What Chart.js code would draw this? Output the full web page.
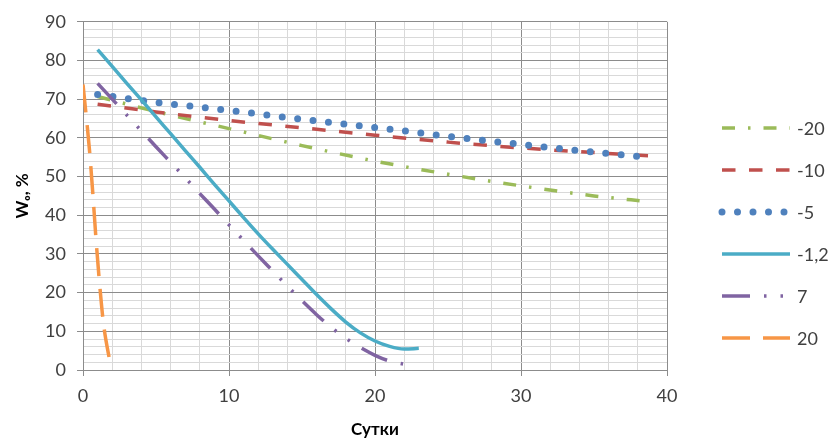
<!DOCTYPE html>
<html>
<head>
<meta charset="utf-8">
<script src="https://cdn.jsdelivr.net/npm/chart.js@4.4.1/dist/chart.umd.min.js"></script>
<style>
  html, body { margin: 0; padding: 0; background: #fff; }
</style>
</head>
<body>
<canvas id="chart" width="833" height="441"></canvas>
<script>
// данные: сутки -> Wo, %
const seriesLabels = ['-20', '-10', '-5', '-1,2', '7', '20'];

const daysM20 = [1, 5, 10, 15, 20, 25, 30, 35, 38.8];
const wM20    = [70.7, 66.8, 62.4, 58.0, 54.0, 50.6, 47.6, 45.0, 43.5];

const daysM10 = [1, 5, 10, 15, 20, 25, 30, 35, 38.7];
const wM10    = [68.7, 66.7, 64.5, 62.6, 60.7, 58.9, 57.4, 56.2, 55.4];

const daysM5 = [1, 5, 10, 15, 20, 25, 30, 35, 38.7];
const wM5    = [71.2, 69.2, 67.1, 64.8, 62.7, 60.4, 58.3, 56.3, 55.0];

const daysM1 = [1, 2, 3, 4, 5, 6, 7, 8, 9, 10, 11, 12, 13, 14, 15, 16, 17, 18, 19, 20, 21, 22, 23];
const wM1    = [82.8, 78.5, 74.1, 69.8, 65.4, 61.1, 56.7, 52.4, 48.0, 43.7, 39.4, 35.2,
                31.2, 27.3, 23.4, 19.5, 15.8, 12.4, 9.6, 7.5, 6.1, 5.4, 5.6];

const daysP7 = [1, 2, 3, 4, 5, 6, 7, 8, 9, 10, 11, 12, 13, 14, 15, 16, 17, 18, 19, 20, 21, 22];
const wP7    = [74.1, 70.0, 65.9, 61.8, 57.7, 53.7, 49.7, 45.6, 41.6, 37.5, 33.5, 29.5,
                25.6, 21.7, 17.9, 14.3, 11.0, 8.2, 5.8, 3.8, 2.3, 1.5];

const daysP20 = [0, 0.45, 0.69, 0.89, 1.13, 1.4, 1.88];
const wP20    = [73.8, 56.6, 44.7, 33.9, 22.6, 12.1, 1.3];

const xTicks = [0, 10, 20, 30, 40];
const yTicks = [0, 10, 20, 30, 40, 50, 60, 70, 80, 90];

const FONT = "Lato, 'Open Sans', sans-serif";
const MAJOR = '#8c8c8c';
const MINOR = '#d9d9d9';

const toPoints = (xs, ys) => xs.map((x, i) => ({ x, y: ys[i] }));

const styles = [
  { color: '#9BBB59', width: 3.5, dash: [13, 13, 2.5, 13], cap: 'butt' },
  { color: '#C0504D', width: 3.5, dash: [13.5, 13.5], cap: 'butt' },
  { color: '#4F81BD', width: 7, dash: [0, 15.5], cap: 'round' },
  { color: '#4BACC6', width: 3.5, dash: [], cap: 'butt' },
  { color: '#8064A2', width: 3.5, dash: [28, 14, 2.5, 14, 2.5, 14], cap: 'butt' },
  { color: '#F79646', width: 3.5, dash: [28, 13], cap: 'butt' },
];
const seriesData = [
  toPoints(daysM20, wM20),
  toPoints(daysM10, wM10),
  toPoints(daysM5, wM5),
  toPoints(daysM1, wM1),
  toPoints(daysP7, wP7),
  toPoints(daysP20, wP20),
];

const datasets = seriesLabels.map((label, i) => ({
  label,
  data: seriesData[i],
  showLine: true,
  borderColor: styles[i].color,
  backgroundColor: styles[i].color,
  borderWidth: styles[i].width,
  borderDash: styles[i].dash,
  borderCapStyle: styles[i].cap,
  cubicInterpolationMode: 'monotone',
  pointRadius: 0,
  pointHoverRadius: 0,
  order: seriesLabels.length - i,
}));

// легенда справа (линии с тем же пунктиром)
const sideLegend = {
  id: 'sideLegend',
  afterDraw(chart) {
    const { ctx } = chart;
    chart.data.datasets.forEach((ds, i) => {
      const y = 128 + i * 42;
      ctx.save();
      ctx.strokeStyle = ds.borderColor;
      ctx.lineWidth = ds.borderWidth;
      ctx.lineCap = ds.borderCapStyle;
      ctx.setLineDash(ds.borderDash);
      ctx.beginPath();
      ctx.moveTo(722, y);
      ctx.lineTo(790, y);
      ctx.stroke();
      ctx.setLineDash([]);
      ctx.fillStyle = '#404040';
      ctx.font = '18px ' + FONT;
      ctx.textBaseline = 'middle';
      ctx.fillText(ds.label, 797, y + 1);
      ctx.restore();
    });
  }
};

const isMajor = (v, list) => list.includes(v);

new Chart(document.getElementById('chart'), {
  type: 'scatter',
  data: { datasets },
  plugins: [sideLegend],
  options: {
    responsive: false,
    animation: false,
    layout: { padding: { left: 0, right: 166, top: 19, bottom: 0 } },
    plugins: {
      legend: { display: false },
      tooltip: { enabled: false },
    },
    scales: {
      x: {
        type: 'linear',
        min: 0,
        max: 40,
        afterFit: s => { s.height = 71; },
        ticks: {
          stepSize: 2,
          autoSkip: false,
          maxRotation: 0,
          padding: 9,
          color: '#404040',
          font: { family: FONT, size: 18 },
          callback: v => isMajor(v, xTicks) ? v : '',
        },
        grid: {
          color: c => (c.tick && isMajor(c.tick.value, xTicks)) ? MAJOR : MINOR,
          tickColor: c => (c.tick && isMajor(c.tick.value, xTicks)) ? MAJOR : 'rgba(0,0,0,0)',
          tickLength: 6,
        },
        border: { color: MAJOR },
        title: {
          display: true,
          text: 'Сутки',
          color: '#000',
          font: { family: FONT, size: 17, weight: 'bold' },
          padding: { top: 0, bottom: 1 },
        },
      },
      y: {
        min: 0,
        max: 90,
        afterFit: s => { s.width = 83; },
        ticks: {
          stepSize: 2,
          autoSkip: false,
          padding: 11,
          color: '#404040',
          font: { family: FONT, size: 18 },
          callback: v => isMajor(v, yTicks) ? v : '',
        },
        grid: {
          color: c => (c.tick && isMajor(c.tick.value, yTicks)) ? MAJOR : MINOR,
          tickColor: c => (c.tick && isMajor(c.tick.value, yTicks)) ? MAJOR : 'rgba(0,0,0,0)',
          tickLength: 6,
        },
        border: { color: MAJOR },
        title: {
          display: true,
          text: 'Wₒ, %',
          color: '#000',
          font: { family: FONT, size: 17, weight: 'bold' },
          padding: { top: 12, bottom: 0 },
        },
      },
    },
  },
});
</script>
</body>
</html>
